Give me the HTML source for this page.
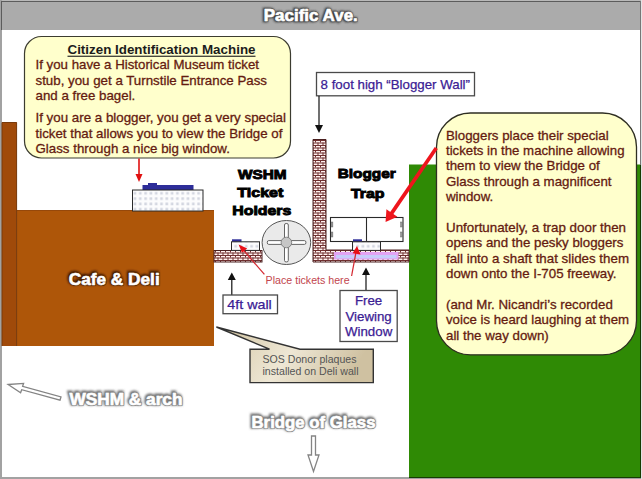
<!DOCTYPE html>
<html lang="en">
<head>
<meta charset="utf-8">
<title>Pacific Ave. - Citizen Identification Machine</title>
<style>
html,body{margin:0;padding:0;background:#fff;}
body{width:642px;height:479px;overflow:hidden;}
svg{display:block;}
text{font-family:"Liberation Sans",Arial,sans-serif;}
.body{font-size:13.3px;fill:#651b10;stroke:#651b10;stroke-width:0.3px;}
.lbl{font-size:13.3px;fill:#3b2094;stroke:#3b2094;stroke-width:0.25px;}
.sm{font-size:10.6px;}
.hd{font-size:17px;font-weight:bold;}
.blk{font-weight:bold;fill:#000;stroke:#000;stroke-width:0.9px;stroke-linejoin:miter;}
</style>
</head>
<body>
<svg width="642" height="479" viewBox="0 0 642 479">
<defs>
  <pattern id="brick" width="5" height="5" patternUnits="userSpaceOnUse">
    <rect width="5" height="5" fill="#fff0ee"/>
    <rect x="0" y="0" width="5" height="1" fill="#703030"/>
    <rect x="0" y="2.5" width="5" height="1" fill="#703030"/>
    <rect x="0" y="0" width="1" height="2.5" fill="#703030"/>
    <rect x="2.5" y="2.5" width="1" height="2.5" fill="#703030"/>
  </pattern>
  <pattern id="dots" width="5.3" height="5.3" patternUnits="userSpaceOnUse">
    <rect width="5.3" height="5.3" fill="#fcfcfd"/>
    <rect x="1.2" y="1.2" width="2.6" height="2.6" fill="#d3d6e0"/>
  </pattern>
  <linearGradient id="tan" x1="0" y1="0" x2="1" y2="0.25">
    <stop offset="0" stop-color="#c9ba95"/>
    <stop offset="0.3" stop-color="#e2d8be"/>
    <stop offset="0.55" stop-color="#eee7d5"/>
    <stop offset="1" stop-color="#cfc1a1"/>
  </linearGradient>
  <filter id="glowD" x="-10%" y="-40%" width="120%" height="180%"><feGaussianBlur stdDeviation="0.9"/></filter>
  <filter id="glowL" x="-10%" y="-40%" width="120%" height="180%"><feGaussianBlur stdDeviation="1.3"/></filter>
  <filter id="soft" x="-20%" y="-20%" width="140%" height="140%">
    <feGaussianBlur stdDeviation="0.6"/>
  </filter>
</defs>

<!-- page + frame -->
<rect x="0" y="0" width="642" height="479" fill="#ffffff"/>
<rect x="0" y="0" width="642" height="30" fill="#ababab"/>
<rect x="0" y="0" width="642" height="1" fill="#b9b9b9"/>
<rect x="1" y="1" width="640" height="1" fill="#5c5c5c"/>
<rect x="0" y="0" width="2" height="479" fill="#a2a2a2"/>
<rect x="1" y="1" width="1" height="29" fill="#5c5c5c"/>
<rect x="0" y="477" width="642" height="2" fill="#a2a2a2"/>
<rect x="640" y="1" width="1" height="477" fill="#777777"/>
<rect x="641" y="0" width="1" height="479" fill="#e4e4e4"/>

<!-- green park -->
<rect x="409" y="164.5" width="231" height="312.5" fill="#2f8a05"/>
<rect x="640" y="165" width="1" height="313" fill="#173c02"/>
<rect x="409" y="477" width="232" height="1" fill="#173c02"/>

<!-- cafe & deli -->
<rect x="17" y="210" width="197" height="136" fill="#ae5609"/>
<rect x="17" y="210" width="197" height="1" fill="#96480a"/>
<rect x="2" y="122.3" width="14.8" height="223.7" fill="#a04a0a"/>
<path d="M2,346 V122.5 H16.6 V346" fill="none" stroke="#783a0c" stroke-width="1"/>

<!-- title text -->
<g class="hd">
  <text x="263.00" y="20.60" fill="#333333" stroke="#333333" stroke-width="2.6" filter="url(#glowD)" textLength="94" lengthAdjust="spacingAndGlyphs">Pacific Ave.</text>
  <text x="263.8" y="21.4" fill="#5a5a5a" stroke="#5a5a5a" stroke-width="2.0" stroke-linejoin="round" textLength="94" lengthAdjust="spacingAndGlyphs">Pacific Ave.</text>
  <text x="263.8" y="21.4" fill="#ffffff" stroke="#ffffff" stroke-width="0.6" stroke-linejoin="round" textLength="94" lengthAdjust="spacingAndGlyphs">Pacific Ave.</text>
  <text x="67.90" y="284.00" fill="#3a1800" stroke="#3a1800" stroke-width="2.6" filter="url(#glowD)" textLength="91" lengthAdjust="spacingAndGlyphs">Cafe &amp; Deli</text>
  <text x="68.7" y="284.8" fill="#5e2c06" stroke="#5e2c06" stroke-width="2.0" stroke-linejoin="round" textLength="91" lengthAdjust="spacingAndGlyphs">Cafe &amp; Deli</text>
  <text x="68.7" y="284.8" fill="#ffffff" stroke="#ffffff" stroke-width="0.6" stroke-linejoin="round" textLength="91" lengthAdjust="spacingAndGlyphs">Cafe &amp; Deli</text>
  <text x="68.70" y="404.20" fill="#707070" stroke="#707070" stroke-width="3.0" filter="url(#glowL)" textLength="113" lengthAdjust="spacingAndGlyphs">WSHM &amp; arch</text>
  <text x="69.5" y="405" fill="#8c8c8c" stroke="#8c8c8c" stroke-width="2.2" stroke-linejoin="round" textLength="113" lengthAdjust="spacingAndGlyphs">WSHM &amp; arch</text>
  <text x="69.5" y="405" fill="#ffffff" stroke="#ffffff" stroke-width="0.6" stroke-linejoin="round" textLength="113" lengthAdjust="spacingAndGlyphs">WSHM &amp; arch</text>
  <text x="250.70" y="427.20" fill="#707070" stroke="#707070" stroke-width="3.0" filter="url(#glowL)" textLength="124" lengthAdjust="spacingAndGlyphs">Bridge of Glass</text>
  <text x="251.5" y="428" fill="#8c8c8c" stroke="#8c8c8c" stroke-width="2.2" stroke-linejoin="round" textLength="124" lengthAdjust="spacingAndGlyphs">Bridge of Glass</text>
  <text x="251.5" y="428" fill="#ffffff" stroke="#ffffff" stroke-width="0.6" stroke-linejoin="round" textLength="124" lengthAdjust="spacingAndGlyphs">Bridge of Glass</text>
</g>

<!-- outline arrows -->
<g fill="#ffffff" stroke="#848484" stroke-width="1.3" stroke-linejoin="miter">
  <polygon points="8.2,384.5 23.6,383.4 22.6,386.4 61,396.9 60,400.2 21.7,389.7 20.6,392.7" filter="url(#soft)"/>
  <polygon points="311.5,436 315.5,436 315.5,455 319,455 313.5,471.5 308,455 311.5,455" filter="url(#soft)"/>
</g>

<!-- callout 1 -->
<rect x="24.5" y="36.5" width="266" height="121.5" rx="17" ry="17" fill="#ffffcc" stroke="#3c3c30" stroke-width="1.2"/>
<text x="67.5" y="54.3" font-size="13.3" font-weight="bold" fill="#1c1c1c" textLength="188" lengthAdjust="spacingAndGlyphs">Citizen Identification Machine</text>
<rect x="67.5" y="55.7" width="188" height="1.1" fill="#1c1c1c"/>
<g class="body">
  <text x="35.5" y="69.4" textLength="223.5" lengthAdjust="spacingAndGlyphs">If you have a Historical Museum ticket</text>
  <text x="35.5" y="84.7" textLength="231.5" lengthAdjust="spacingAndGlyphs">stub, you get a Turnstile Entrance Pass</text>
  <text x="35.5" y="100.0">and a free bagel.</text>
  <text x="35.5" y="122.3" textLength="250.5" lengthAdjust="spacingAndGlyphs">If you are a blogger, you get a very special</text>
  <text x="35.5" y="137.6">ticket that allows you to view the Bridge of</text>
  <text x="35.5" y="152.9">Glass through a nice big window.</text>
</g>

<!-- red arrow from callout 1 -->
<line x1="139" y1="158.5" x2="139" y2="175" stroke="#e01010" stroke-width="1.6"/>
<polygon points="135.5,174 142.5,174 139,182" fill="#e01010"/>

<!-- ID machine on cafe -->
<rect x="142.5" y="185" width="51" height="6" fill="#2d2d99"/>
<rect x="148" y="183" width="9" height="3" fill="#2d2d99"/>
<rect x="132.5" y="190" width="70.5" height="21" fill="url(#dots)" stroke="#2a2a2a" stroke-width="1"/>

<!-- 8 foot label -->
<rect x="316.5" y="72.5" width="158" height="23.3" fill="#ffffff" stroke="#4a4a4a" stroke-width="1.3"/>
<text class="lbl" x="320.6" y="89.1" textLength="149.4" lengthAdjust="spacingAndGlyphs">8 foot high “Blogger Wall”</text>
<line x1="319" y1="96" x2="319" y2="126" stroke="#111" stroke-width="1.2"/>
<polygon points="315,125 323,125 319,133" fill="#111"/>

<!-- tall blogger wall (L-shape) -->
<path d="M313,139.5 H326 V250 H409 V262 H313 Z" fill="url(#brick)" stroke="#4a2020" stroke-width="1"/>
<!-- free viewing window in wall -->
<rect x="334" y="252" width="64.5" height="7.5" fill="#e3a3f3"/>
<rect x="336" y="255" width="60.5" height="3.3" fill="#c6cdfb"/>

<!-- 4ft wall -->
<rect x="214" y="250.5" width="48" height="11.5" fill="url(#brick)" stroke="#4a2020" stroke-width="1"/>

<!-- trap doors -->
<rect x="330.5" y="217.5" width="72.5" height="24" fill="#ffffff" stroke="#2a2a2a" stroke-width="1.1"/>
<line x1="366.5" y1="217.5" x2="366.5" y2="241.5" stroke="#2a2a2a" stroke-width="1.1"/>
<g fill="#9a9a9a" stroke="#555" stroke-width="0.4">
  <rect x="331.3" y="222" width="1.6" height="5"/>
  <rect x="331.3" y="232" width="1.6" height="5"/>
  <rect x="400.6" y="222" width="1.6" height="5"/>
  <rect x="400.6" y="232" width="1.6" height="5"/>
</g>

<!-- small machines -->
<rect x="232" y="239.3" width="9.5" height="2.6" fill="#2d2d99"/>
<rect x="231.5" y="241.8" width="28" height="8.6" fill="url(#dots)" stroke="#2a2a2a" stroke-width="1"/>
<rect x="353" y="239.3" width="9" height="2.6" fill="#2d2d99"/>
<rect x="352.5" y="241.8" width="28" height="8.6" fill="url(#dots)" stroke="#2a2a2a" stroke-width="1"/>

<!-- turnstile -->
<ellipse cx="286.4" cy="242.5" rx="24.3" ry="22" fill="#eaeaea" stroke="#555555" stroke-width="1"/>
<g fill="#ffffff" stroke="#555555" stroke-width="0.9">
  <rect x="267.3" y="240.6" width="38.6" height="3.8" rx="1.5"/>
  <rect x="284.5" y="223.5" width="3.8" height="38.4" rx="1.5"/>
</g>
<circle cx="286.4" cy="242.5" r="5.3" fill="#c6c6c6" stroke="#7a7a7a" stroke-width="0.9"/>

<!-- heavy headings -->
<g class="blk" font-size="12.8">
  <text x="238" y="178.7" textLength="48.6" lengthAdjust="spacingAndGlyphs">WSHM</text>
  <text x="237.3" y="196.5" textLength="46" lengthAdjust="spacingAndGlyphs">Ticket</text>
  <text x="232.3" y="214.5" textLength="59" lengthAdjust="spacingAndGlyphs">Holders</text>
</g>
<g class="blk" font-size="13">
  <text x="337.7" y="178" textLength="58" lengthAdjust="spacingAndGlyphs">Blogger</text>
  <text x="351" y="198.4" textLength="33.6" lengthAdjust="spacingAndGlyphs">Trap</text>
</g>

<!-- place tickets here -->
<text class="sm" x="265.6" y="284.3" fill="#c2454d" textLength="84" lengthAdjust="spacingAndGlyphs">Place tickets here</text>
<line x1="264.4" y1="274.4" x2="241" y2="247.3" stroke="#d42830" stroke-width="1.25"/>
<polygon points="238.6,244.6 247.2,248.4 242,252.8" fill="#e81018"/>
<line x1="351.6" y1="276" x2="356.2" y2="251" stroke="#d42830" stroke-width="1.25"/>
<polygon points="357,246 360.6,254.6 352.6,253.2" fill="#e81018"/>

<!-- 4ft wall label -->
<line x1="231.8" y1="279" x2="231.8" y2="295" stroke="#111" stroke-width="1.2"/>
<polygon points="227.8,280 235.8,280 231.8,272.5" fill="#111"/>
<rect x="223" y="295" width="54.5" height="18.7" fill="#ffffff" stroke="#4a4a4a" stroke-width="1.3"/>
<text class="lbl" x="227.3" y="309.3" textLength="44.5" lengthAdjust="spacingAndGlyphs">4ft wall</text>

<!-- free viewing window label -->
<line x1="366" y1="274" x2="366" y2="290.5" stroke="#111" stroke-width="1.2"/>
<polygon points="362,275 370,275 366,267.5" fill="#111"/>
<rect x="340" y="290.5" width="57.2" height="51" fill="#ffffff" stroke="#4a4a4a" stroke-width="1.3"/>
<g class="lbl" text-anchor="middle">
  <text x="368.6" y="304.9">Free</text>
  <text x="368.6" y="320.6">Viewing</text>
  <text x="368.6" y="336">Window</text>
</g>

<!-- SOS donor callout -->
<path d="M250,349.2 H269.5 L216.4,327 L300,349.2 H373.3 V382.6 H250 Z" fill="url(#tan)" stroke="#333333" stroke-width="1.4" stroke-linejoin="miter"/>
<g class="sm" fill="#545454">
  <text x="262.5" y="362.5" textLength="94" lengthAdjust="spacingAndGlyphs">SOS Donor plaques</text>
  <text x="262.5" y="374.5" textLength="96" lengthAdjust="spacingAndGlyphs">installed on Deli wall</text>
</g>

<!-- callout 2 -->
<rect x="436.5" y="113" width="200" height="241.8" rx="34" ry="34" fill="#ffffcc" stroke="#2e2e22" stroke-width="1.3"/>
<g class="body">
  <text x="446" y="139.7">Bloggers place their special</text>
  <text x="446" y="155" textLength="178.5" lengthAdjust="spacingAndGlyphs">tickets in the machine allowing</text>
  <text x="446" y="170.2">them to view the Bridge of</text>
  <text x="446" y="185.5">Glass through a magnificent</text>
  <text x="446" y="200.8">window.</text>
  <text x="446" y="232" textLength="180" lengthAdjust="spacingAndGlyphs">Unfortunately, a trap door then</text>
  <text x="446" y="247.4">opens and the pesky bloggers</text>
  <text x="446" y="262.7" textLength="183" lengthAdjust="spacingAndGlyphs">fall into a shaft that slides them</text>
  <text x="446" y="278">down onto the I-705 freeway.</text>
  <text x="446" y="309">(and Mr. Nicandri’s recorded</text>
  <text x="446" y="324.3" textLength="183" lengthAdjust="spacingAndGlyphs">voice is heard laughing at them</text>
  <text x="446" y="339.5">all the way down)</text>
</g>

<!-- big red arrow -->
<line x1="436.3" y1="148" x2="390.5" y2="214.9" stroke="#ee151c" stroke-width="3.7" stroke-linecap="butt"/>
<polygon points="385.6,222 386.4,209.2 397.4,216.8" fill="#ee151c"/>
</svg>
</body>
</html>
